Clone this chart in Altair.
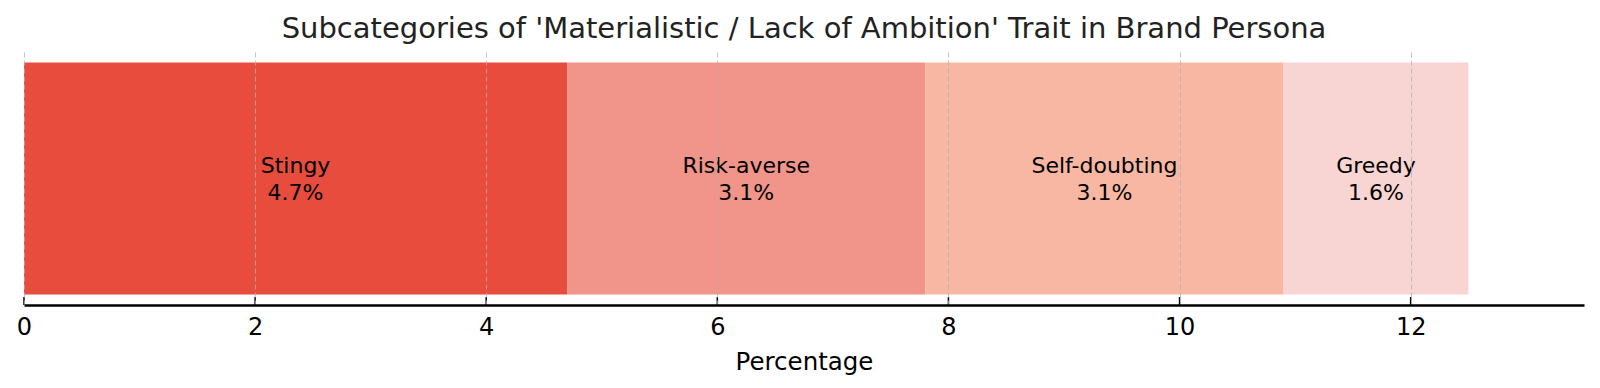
import altair as alt
import pandas as pd

categories = ["Stingy", "Risk-averse", "Self-doubting", "Greedy"]
values = [4.7, 3.1, 3.1, 1.6]
colors = ["#e74c3c", "#f1948a", "#f7b7a3", "#f8d5d3"]
tick_values = [0, 2, 4, 6, 8, 10, 12]

df = pd.DataFrame({
    "cat": categories,
    "value": values,
    "order": list(range(len(categories))),
    "row": ["Trait"] * len(categories),
})
ticks_df = pd.DataFrame({"t": tick_values})

W, H = 1560, 253
xscale = alt.Scale(domain=[0, 13.5], nice=False, zero=True)
yscale = alt.Scale(paddingInner=0, paddingOuter=0.045)

base = alt.Chart(df).transform_stack(
    stack="value", groupby=["row"], as_=["start", "end"],
    sort=[alt.SortField("order", order="ascending")]
).transform_calculate(
    mid="(datum.start + datum.end) / 2",
    lbl="[datum.cat, format(datum.value, '.1f') + '%']",
)

bars = base.mark_bar(stroke=None).encode(
    x=alt.X("start:Q", scale=xscale,
            axis=alt.Axis(values=tick_values, format="d", title="Percentage", grid=True,
                          gridDash=[5, 3], gridColor="#b0b0b0", gridOpacity=0.75,
                          gridWidth=1, tickSize=0, domainColor="#000000",
                          domainWidth=2.5, labelFontSize=24, labelColor="#000000",
                          labelFlush=False, labelOverlap=False,
                          labelPadding=10, titleFontSize=24.5, titleFontWeight="normal",
                          titleColor="#000000", titlePadding=11, labelFont="DejaVu Sans",
                          titleFont="DejaVu Sans", zindex=1)),
    x2="end:Q",
    y=alt.Y("row:N", axis=None, scale=yscale),
    color=alt.Color("cat:N", scale=alt.Scale(domain=categories, range=colors), legend=None),
)

texts = base.mark_text(font="DejaVu Sans", fontSize=22, color="#000000",
                       align="center", baseline="middle", lineHeight=27, dy=-13).encode(
    x=alt.X("mid:Q", scale=xscale),
    y=alt.Y("row:N", axis=None, scale=yscale),
    text="lbl:N",
)

tick_marks = alt.Chart(ticks_df).mark_rule(color="#000000", strokeWidth=1.5).encode(
    x=alt.X("t:Q", scale=xscale),
    y=alt.value(H - 8),
    y2=alt.value(H),
)

chart = alt.layer(bars, texts, tick_marks).properties(
    width=W, height=H,
    title=alt.TitleParams(
        "Subcategories of 'Materialistic / Lack of Ambition' Trait in Brand Persona",
        font="DejaVu Sans", fontSize=29, fontWeight="normal", color="#222222",
        anchor="middle", offset=8),
    autosize=alt.AutoSizeParams(type="none"),
    padding={"left": 16, "top": 44, "right": 8, "bottom": 75},
).configure_view(stroke=None)

chart.save("out.html", embed_options={"renderer": "svg", "actions": False})
